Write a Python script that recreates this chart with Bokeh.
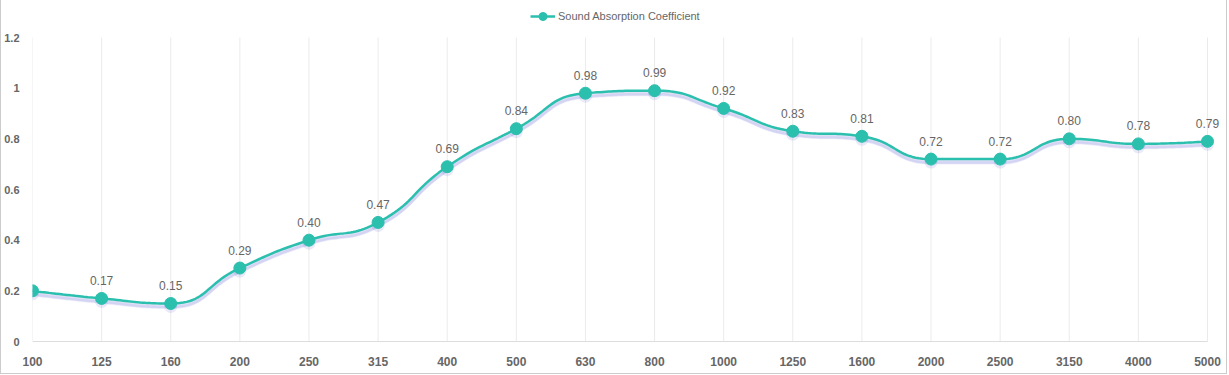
import math
import numpy as np
from bokeh.plotting import figure
from bokeh.models import (ColumnDataSource, FixedTicker, Legend, LegendItem, Range1d)
from bokeh.core.properties import value
from bokeh.embed import file_html
from bokeh.resources import INLINE

# ---- data ----
frequencies = ["100", "125", "160", "200", "250", "315", "400", "500", "630", "800",
               "1000", "1250", "1600", "2000", "2500", "3150", "4000", "5000"]
absorption = [0.20, 0.17, 0.15, 0.29, 0.40, 0.47, 0.69, 0.84, 0.98, 0.99,
              0.92, 0.83, 0.81, 0.72, 0.72, 0.80, 0.78, 0.79]
y_ticks = [0, 0.2, 0.4, 0.6, 0.8, 1.0, 1.2]
y_tick_labels = ["0", "0.2", "0.4", "0.6", "0.8", "1", "1.2"]
series_name = "Sound Absorption Coefficient"

LINE_COLOR = "#2bbfae"
SHADOW = "#6a6ad8"
TEXT_COLOR = "#666666"
FONT = "Liberation Sans"

W, H = 1227, 374
ML, MR, MB = 31, 2, 31          # frame margins (frame reaches the top edge)
PAD_TOP = 37                    # px between frame top and y = 1.2
PAD_RIGHT = 19                  # px between last category and frame right
PAD_BOTTOM = 2                  # px between y = 0 and frame bottom
FW, FH = W - ML - MR, H - MB
y_max = 1.2
n = len(frequencies)
xs = list(range(n))

sx = (FW - PAD_RIGHT) / (n - 1)
sy = (FH - PAD_TOP - PAD_BOTTOM) / y_max


def smooth_curve(xv, yv, smooth=0.5, steps=24):
    pts = [(x * sx, y * sy) for x, y in zip(xv, yv)]
    N = len(pts)
    cin = [None] * N
    cout = [None] * N
    cout[0] = pts[0]
    cin[-1] = pts[-1]
    for i in range(1, N - 1):
        px, py = pts[i - 1]
        x, y = pts[i]
        nx, ny = pts[i + 1]
        vx, vy = nx - px, ny - py
        l0 = math.hypot(x - px, y - py)
        l1 = math.hypot(nx - x, ny - y)
        r = l1 / (l0 + l1)
        n0x = x + vx * smooth * r
        n0y = y + vy * smooth * r
        n0x = max(min(n0x, max(nx, x)), min(nx, x))
        n0y = max(min(n0y, max(ny, y)), min(ny, y))
        vx, vy = n0x - x, n0y - y
        c1x = x - vx * l0 / l1
        c1y = y - vy * l0 / l1
        c1x = max(min(c1x, max(px, x)), min(px, x))
        c1y = max(min(c1y, max(py, y)), min(py, y))
        vx, vy = x - c1x, y - c1y
        n0x = x + vx * l1 / l0
        n0y = y + vy * l1 / l0
        cin[i] = (c1x, c1y)
        cout[i] = (n0x, n0y)
    ox, oy = [], []
    t = np.linspace(0, 1, steps)
    for i in range(N - 1):
        p0, c0, c1, p1 = pts[i], cout[i], cin[i + 1], pts[i + 1]
        bx = ((1 - t) ** 3) * p0[0] + 3 * ((1 - t) ** 2) * t * c0[0] + 3 * (1 - t) * t ** 2 * c1[0] + t ** 3 * p1[0]
        by = ((1 - t) ** 3) * p0[1] + 3 * ((1 - t) ** 2) * t * c0[1] + 3 * (1 - t) * t ** 2 * c1[1] + t ** 3 * p1[1]
        if i > 0:
            bx, by = bx[1:], by[1:]
        ox.extend(float(v) for v in bx / sx)
        oy.extend(float(v) for v in by / sy)
    return ox, oy


cx, cy = smooth_curve(xs, absorption)

p = figure(width=W, height=H, output_backend="svg", toolbar_location=None,
           x_range=Range1d(0, (n - 1) + PAD_RIGHT / sx),
           y_range=Range1d(-PAD_BOTTOM / sy, y_max + PAD_TOP / sy),
           min_border_left=ML, min_border_right=MR, min_border_top=0, min_border_bottom=MB)
p.outline_line_color = None
p.background_fill_color = "white"
p.border_fill_color = "white"
p.styles = {"border-left": "1px solid #cccccc", "border-right": "1px solid #cccccc",
            "border-bottom": "1px solid #cccccc"}

# vertical grid lines (only between 0 and the top tick)
p.segment(x0=xs, y0=[0] * n, x1=xs, y1=[y_ticks[-1]] * n, line_color="#ebebeb", line_width=1)
# category axis baseline
p.segment(x0=[xs[0]], y0=[0], x1=[xs[-1]], y1=[0], line_color="#dddddd", line_width=1)

# shadow of the line (soft lavender, offset downward)
for off, w, a in [(2.0, 5, 0.10), (3.0, 4, 0.12), (4.0, 3, 0.10)]:
    p.line(cx, [y - off / sy for y in cy], line_color=SHADOW, line_width=w, line_alpha=a)
src = ColumnDataSource(dict(x=xs, y=absorption, ys=[v - 3.0 / sy for v in absorption]))
p.scatter("x", "ys", source=src, size=13, fill_color=SHADOW, fill_alpha=0.15, line_color=None)

line_r = p.line(cx, cy, line_color=LINE_COLOR, line_width=2.5)
dot_r = p.scatter("x", "y", source=src, size=12, fill_color=LINE_COLOR, line_color=LINE_COLOR)

# value labels (first point has none)
lab_src = ColumnDataSource(dict(x=xs[1:], y=absorption[1:],
                                lbl=["%.2f" % v for v in absorption[1:]]))
p.text("x", "y", text="lbl", source=lab_src, y_offset=-18, text_align="center",
       text_baseline="middle", text_color=TEXT_COLOR, text_font_size="12px",
       text_font=value(FONT))

# axes
p.xaxis.ticker = FixedTicker(ticks=xs)
p.xaxis.major_label_overrides = {i: f for i, f in enumerate(frequencies)}
p.xaxis.axis_line_color = None
p.xaxis.major_tick_line_color = None
p.xaxis.minor_tick_line_color = None
p.xaxis.major_label_standoff = 7
p.xaxis.major_label_text_font = FONT
p.xaxis.major_label_text_font_style = "bold"
p.xaxis.major_label_text_font_size = "12px"
p.xaxis.major_label_text_color = TEXT_COLOR

p.yaxis.ticker = FixedTicker(ticks=y_ticks)
p.yaxis.major_label_overrides = {t: l for t, l in zip(y_ticks, y_tick_labels)}
p.yaxis.axis_line_color = None
p.yaxis.major_tick_line_color = None
p.yaxis.minor_tick_line_color = None
p.yaxis.major_label_standoff = 7
p.yaxis.major_label_text_font = FONT
p.yaxis.major_label_text_font_style = "bold"
p.yaxis.major_label_text_font_size = "11px"
p.yaxis.major_label_text_color = TEXT_COLOR

p.xgrid.grid_line_color = None
p.ygrid.grid_line_color = None

# legend (inside the frame, above the plotted area)
GH = 20
legend = Legend(items=[LegendItem(label=series_name, renderers=[line_r, dot_r])],
                location=(498, FH - 16 - GH // 2), orientation="horizontal",
                border_line_color=None, background_fill_alpha=0,
                label_text_font=FONT, label_text_font_size="11px",
                label_text_color=TEXT_COLOR, glyph_width=25, glyph_height=GH,
                label_standoff=3, padding=0, margin=0, spacing=0)
p.add_layout(legend, "center")

open("out.html", "w").write(file_html(p, INLINE))
